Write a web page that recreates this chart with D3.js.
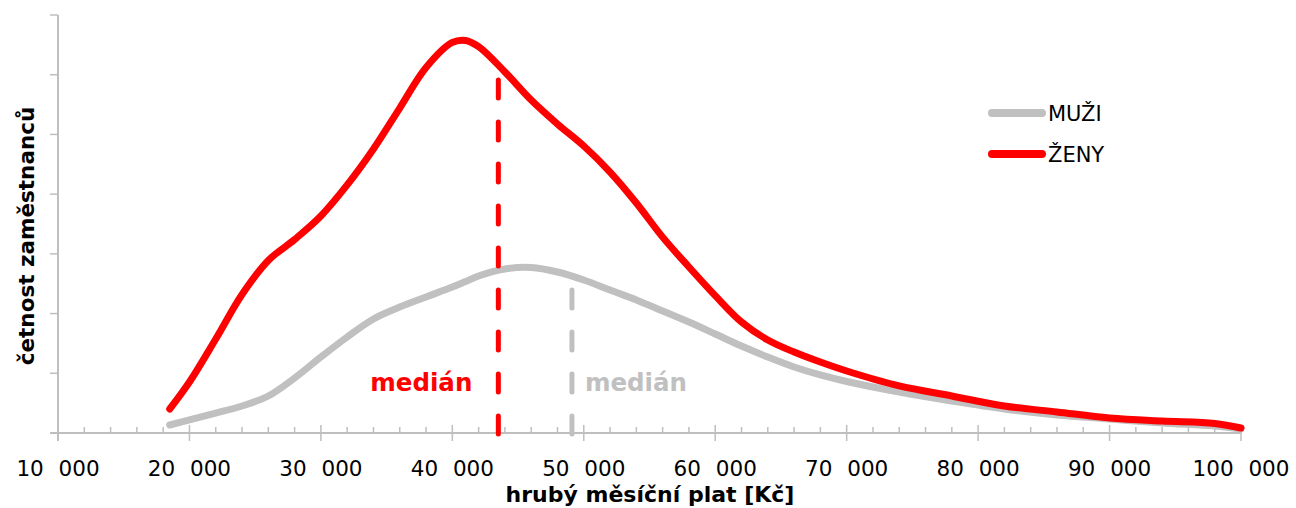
<!DOCTYPE html>
<html><head><meta charset="utf-8">
<script src="https://cdn.jsdelivr.net/npm/d3@7"></script>
<style>
html,body{margin:0;padding:0;background:#fff;}
svg text{font-family:"DejaVu Sans","Liberation Sans",sans-serif;}
</style></head>
<body>
<svg id="chart" width="1296" height="508"></svg>
<script>
// salary bins (Kč)
const salary = [18500,20000,22000,24000,26000,28000,30000,32000,34000,36000,38000,40000,41000,42000,44000,46000,48000,50000,52000,54000,56000,58000,60000,62000,64000,66000,68000,70000,74000,78000,82000,86000,90000,94000,98000,100000];
// frequency (arbitrary units)
const zeny = [201,427,787,1160,1445,1620,1817,2077,2378,2721,3060,3270,3287,3235,3023,2788,2587,2403,2185,1926,1640,1390,1150,929,779,678,594,519,394,310,226,176,126,100,80,42];
const muzi = [67,109,167,226,310,461,636,804,955,1055,1139,1222,1268,1315,1373,1386,1348,1281,1197,1114,1022,929,829,728,636,553,486,431,343,268,201,151,117,84,59,33];
const medianZeny = 43500;
const medianMuzi = 49100;
const medianZenyTop = 2985;
const medianMuziTop = 1230;
const xTicks = [10000,20000,30000,40000,50000,60000,70000,80000,90000,100000];
const yTicks = [0,500,1000,1500,2000,2500,3000,3500];
const seriesNames = ["MUŽI","ŽENY"];
const colors = {muzi:"#c0c0c0", zeny:"#ff0000"};

const svg = d3.select("#chart");
const x = d3.scaleLinear().domain([10000,100000]).range([58,1241]);
const y = d3.scaleLinear().domain([0,3500]).range([433,15]);
const axisColor = "#bfbfbf";

// minor ticks x
const minor = d3.range(10000,100001,2000).filter(v=>v%10000!==0);
svg.append("g").selectAll("line").data(minor).join("line")
  .attr("x1",d=>x(d)).attr("x2",d=>x(d)).attr("y1",y(0)-6).attr("y2",y(0))
  .attr("stroke",axisColor).attr("stroke-width",1.5);
// major ticks x
svg.append("g").selectAll("line").data(xTicks).join("line")
  .attr("x1",d=>x(d)).attr("x2",d=>x(d)).attr("y1",y(0)-8).attr("y2",y(0)+8)
  .attr("stroke",axisColor).attr("stroke-width",1.5);
// x axis line
svg.append("line").attr("x1",x(10000)-8).attr("x2",x(100000)).attr("y1",y(0)).attr("y2",y(0))
  .attr("stroke",axisColor).attr("stroke-width",2);
// y axis
svg.append("line").attr("x1",x(10000)).attr("x2",x(10000)).attr("y1",y(3500)).attr("y2",y(0)+8)
  .attr("stroke",axisColor).attr("stroke-width",2);
svg.append("g").selectAll("line").data(yTicks).join("line")
  .attr("x1",x(10000)-8).attr("x2",x(10000)).attr("y1",d=>y(d)).attr("y2",d=>y(d))
  .attr("stroke",axisColor).attr("stroke-width",1.5);

// x tick labels
svg.append("g").selectAll("text").data(xTicks).join("text")
  .attr("x",d=>x(d)).attr("y",476).attr("text-anchor","middle")
  .attr("font-size",21.5).attr("fill","#000").style("word-spacing","8px")
  .text(d=>d3.format(",")(d).replace(",", " "));

// titles
svg.append("text").attr("x",650).attr("y",502).attr("text-anchor","middle")
  .attr("font-size",22).attr("font-weight","bold").text("hrubý měsíční plat [Kč]");
svg.append("text").attr("transform","translate(34,236) rotate(-90)").attr("text-anchor","middle")
  .attr("font-size",21.5).attr("font-weight","bold").text("četnost zaměstnanců");

const line = d3.line().x(d=>x(d[0])).y(d=>y(d[1])).curve(d3.curveCatmullRom.alpha(0.5));

svg.append("path").datum(salary.map((s,i)=>[s,muzi[i]])).attr("d",line)
  .attr("fill","none").attr("stroke",colors.muzi).attr("stroke-width",7).attr("stroke-linecap","round");
svg.append("path").datum(salary.map((s,i)=>[s,zeny[i]])).attr("d",line)
  .attr("fill","none").attr("stroke",colors.zeny).attr("stroke-width",7).attr("stroke-linecap","round");

// median lines
function median(val, top, color){
  svg.append("line").attr("x1",x(val)).attr("x2",x(val)).attr("y1",y(0)+1).attr("y2",y(top))
    .attr("stroke",color).attr("stroke-width",5).attr("stroke-linecap","round")
    .attr("stroke-dasharray","18,24");
}
median(medianZeny, medianZenyTop, colors.zeny);
median(medianMuzi, medianMuziTop, colors.muzi);

svg.append("text").attr("x",x(medianZeny)-26).attr("y",391).attr("text-anchor","end")
  .attr("font-size",24.5).attr("font-weight","bold").attr("fill",colors.zeny).text("medián");
svg.append("text").attr("x",x(medianMuzi)+13).attr("y",391).attr("text-anchor","start")
  .attr("font-size",24.5).attr("font-weight","bold").attr("fill",colors.muzi).text("medián");

// legend
const leg = svg.append("g");
[[colors.muzi,113,seriesNames[0]],[colors.zeny,154,seriesNames[1]]].forEach(([c,yy,t])=>{
  leg.append("line").attr("x1",992).attr("x2",1042).attr("y1",yy).attr("y2",yy)
    .attr("stroke",c).attr("stroke-width",8).attr("stroke-linecap","round");
  leg.append("text").attr("x",1048).attr("y",yy+8).attr("font-size",21).attr("fill","#000").text(t);
});
</script>
</body></html>
